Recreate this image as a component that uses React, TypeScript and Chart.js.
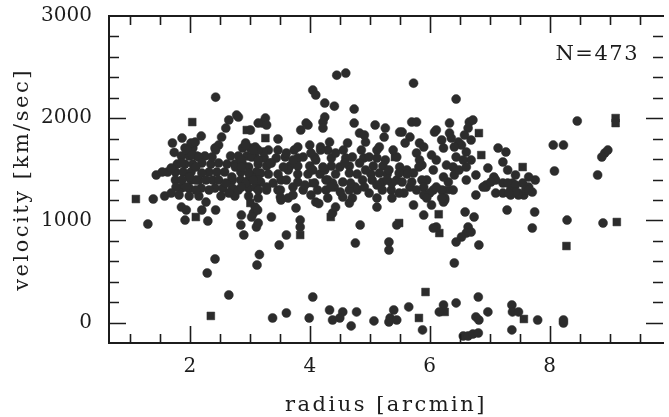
import { useEffect, useRef } from 'react';
import { Chart, registerables } from 'chart.js';

Chart.register(...registerables);

const xTickValues = [2, 4, 6, 8];
const yTickValues = [0, 1000, 2000, 3000];
const xRange = [0.652, 9.89];
const yRange = [-200, 3000];
const xAxisTitle = 'radius [arcmin]';
const yAxisTitle = 'velocity [km/sec]';
const sampleLabel = 'N=473';

// [radius (arcmin), velocity (km/s)] — filled circles
const circlesInner: [number, number][] = [
  [2.43, 2206], [2.19, 1825], [2.02, 1757], [2.09, 1766], [1.87, 1805], [1.71, 1757], [1.74, 1665], [1.44, 1444], [1.54, 1473], [1.69, 1512], [1.86, 1561],
  [2.78, 2030], [2.65, 1982], [2.60, 1903], [2.53, 1815], [2.48, 1737], [2.43, 1688], [2.37, 1620], [2.48, 1561],
  [3.01, 1884], [2.93, 1757], [3.09, 1718], [3.14, 1952],
  [1.96, 1688], [2.04, 1639], [2.15, 1620], [2.20, 1561], [2.10, 1522], [2.20, 1463], [2.27, 1395], [2.10, 1395], [1.99, 1424], [1.87, 1395], [1.94, 1326], [1.77, 1326], [2.10, 1297], [2.32, 1297], [2.48, 1395], [2.60, 1365], [2.70, 1424], [2.76, 1522], [2.86, 1591], [2.98, 1522], [3.03, 1424], [2.93, 1365], [3.09, 1326], [2.81, 1297], [2.65, 1267],
  [1.39, 1209], [1.69, 1267], [1.82, 1248], [1.30, 964],
  [1.86, 1130], [1.94, 1101], [1.92, 1003], [2.30, 994], [2.20, 1101], [2.27, 1179], [2.43, 1101],
  [2.42, 622], [2.29, 485], [2.65, 270],
  [2.86, 1052], [2.85, 955], [2.90, 857], [3.06, 1072], [3.11, 935], [3.03, 1033], [3.09, 1130], [3.16, 665], [3.12, 563],
  [2.81, 2011], [2.93, 1737], [3.14, 1688], [3.03, 1620], [2.86, 1522], [2.98, 1463], [3.14, 1395], [3.06, 1688], [3.14, 1591], [3.06, 1395], [2.86, 1326], [3.14, 1297], [3.13, 1101], [3.14, 974],
];

// dense core of the left clump
const circlesInnerCore: [number, number][] = [
  [1.92, 1708], [2.05, 1708], [2.42, 1708], [2.88, 1708], [3.01, 1708],
  [1.86, 1630], [1.99, 1630], [2.12, 1630], [2.25, 1630], [2.68, 1630], [2.81, 1630], [2.95, 1630], [3.08, 1630],
  [1.79, 1551], [1.92, 1551], [2.05, 1551], [2.35, 1551], [2.62, 1551], [2.75, 1551], [2.88, 1551], [3.14, 1551],
  [1.63, 1473], [1.76, 1473], [1.89, 1473], [2.02, 1473], [2.32, 1473], [2.45, 1473], [2.58, 1473], [2.85, 1473], [3.11, 1473],
  [1.76, 1395], [2.02, 1395], [2.15, 1395], [2.38, 1395], [2.71, 1395], [2.85, 1395], [2.98, 1395],
  [1.86, 1316], [1.99, 1316], [2.19, 1316], [2.42, 1316], [2.55, 1316], [2.71, 1316], [2.98, 1316],
  [1.58, 1238], [1.99, 1238], [2.15, 1238], [2.52, 1238], [2.75, 1238], [2.98, 1238],
];

const circlesMiddle: [number, number][] = [
  [3.52, 1199], [3.36, 1033], [3.77, 1121], [3.84, 1003], [3.84, 935], [3.61, 857], [3.49, 759],
  [4.10, 1179], [4.15, 1165], [4.38, 1072], [4.43, 1130], [4.66, 1170], [4.84, 955], [5.12, 1130], [4.76, 778], [5.45, 955], [5.32, 788], [5.32, 710],
  [4.05, 2275], [4.10, 2227], [4.25, 2148], [4.41, 2118], [4.74, 2089], [4.25, 2011], [4.22, 1962], [4.22, 1903], [3.94, 1952], [3.85, 1884], [4.74, 1952], [4.83, 1854], [5.09, 1933], [5.26, 1903], [5.24, 1815], [5.50, 1864], [3.21, 1952], [3.26, 2001], [3.47, 1796], [4.33, 1766], [4.63, 1757], [4.93, 1766], [5.16, 1718],
  [4.45, 2421], [4.60, 2441], [3.97, 1933], [4.91, 1835], [3.23, 1962], [3.28, 1933],
  [3.36, 1561], [3.59, 1620], [3.64, 1493], [3.52, 1395], [3.47, 1297], [3.80, 1718], [4.00, 1737], [4.08, 1620], [4.18, 1718], [4.25, 1493], [4.30, 1395], [4.08, 1365], [4.41, 1326],
  [3.23, 1669], [3.34, 1561], [3.61, 1659], [3.56, 1522], [3.72, 1591], [3.89, 1620], [4.02, 1659], [4.10, 1591], [4.18, 1688], [4.22, 1522], [4.05, 1493], [4.43, 1659], [4.50, 1522], [4.58, 1561], [4.66, 1463], [4.71, 1620], [4.83, 1561], [4.93, 1493], [4.99, 1620], [4.88, 1395], [4.76, 1326], [5.04, 1395], [5.16, 1463], [5.26, 1591], [5.32, 1493], [5.37, 1365], [5.49, 1463], [5.49, 1267], [5.21, 1297], [4.99, 1267], [4.66, 1297], [4.55, 1228], [4.38, 1365], [4.27, 1395],
  [3.18, 1463], [3.39, 1365], [3.61, 1395], [3.72, 1326], [3.51, 1297], [3.28, 1326], [4.02, 1248], [3.51, 1228], [3.72, 1248],
  [3.92, 1346], [4.35, 1326], [4.51, 1277], [4.68, 1365], [4.91, 1326], [5.12, 1346], [5.29, 1395],
];

// dense core of the middle clump
const circlesMiddleCore: [number, number][] = [
  [3.31, 1688], [3.47, 1688], [3.74, 1688], [4.30, 1688], [4.56, 1688], [4.86, 1688], [5.12, 1688], [5.39, 1688],
  [3.24, 1610], [3.44, 1610], [3.80, 1610], [4.36, 1610], [4.60, 1610], [4.90, 1610], [5.12, 1610],
  [3.28, 1532], [3.67, 1532], [3.80, 1532], [4.00, 1532], [4.36, 1532], [4.66, 1532], [5.06, 1532], [5.22, 1532],
  [3.31, 1453], [3.47, 1453], [3.80, 1453], [3.97, 1453], [4.17, 1453], [4.43, 1453], [4.79, 1453], [5.02, 1453], [5.29, 1453], [5.62, 1453],
  [3.18, 1375], [3.80, 1375], [4.55, 1375], [5.21, 1375], [5.54, 1375], [5.70, 1375],
  [3.28, 1297], [3.89, 1297], [4.13, 1297], [4.27, 1297], [4.79, 1297], [5.36, 1297], [5.78, 1297],
  [3.14, 1219], [3.64, 1219], [4.30, 1219], [4.71, 1219], [5.12, 1219], [5.37, 1219], [5.95, 1219], [6.20, 1219],
];

const circlesOuter: [number, number][] = [
  [5.73, 1150], [5.90, 1052], [6.03, 1150], [6.11, 935], [6.25, 1199],
  [6.06, 925], [6.59, 1082], [6.74, 1033], [6.64, 935], [6.61, 876], [6.53, 837], [6.44, 788], [6.69, 886], [6.82, 759], [6.41, 583], [7.29, 1101], [7.35, 1248], [7.48, 1248], [7.75, 1082], [7.71, 925], [8.29, 1003], [8.89, 974], [6.23, 1179],
  [8.46, 1972], [8.06, 1737], [8.23, 1737], [8.92, 1659], [8.87, 1620], [8.97, 1688], [8.08, 1483], [8.80, 1444],
  [6.44, 2187], [5.73, 2343], [5.70, 1962], [5.78, 1962], [5.54, 1864], [5.67, 1815], [5.59, 1757], [6.08, 1864], [5.83, 1757], [5.90, 1718], [6.33, 1952], [6.33, 1854], [6.66, 1962], [6.72, 1982], [6.64, 1903], [6.58, 1835], [6.48, 1766], [6.23, 1708], [6.41, 1718], [6.61, 1669], [6.44, 1620], [6.56, 1591], [6.39, 1522], [6.41, 1444], [6.23, 1424], [6.06, 1493], [6.49, 1493], [6.61, 1522],
  [7.14, 1708], [7.27, 1669], [7.22, 1571], [6.97, 1512], [7.07, 1424], [6.94, 1326], [7.65, 1424], [7.22, 1365], [7.38, 1365], [7.55, 1365], [7.65, 1326], [7.35, 1297], [7.48, 1267], [7.60, 1297], [6.11, 1884], [7.30, 1365], [7.43, 1346], [6.94, 1346], [7.10, 1395], [6.39, 1297], [7.43, 1277], [7.22, 1267], [7.65, 1297], [6.89, 1326], [7.02, 1375], [7.32, 1267],
  [5.45, 1620], [5.50, 1522], [5.62, 1493], [5.78, 1659], [5.83, 1591], [5.82, 1522], [5.73, 1463], [5.87, 1395], [5.67, 1326], [5.90, 1326], [6.06, 1297], [5.45, 1395], [5.57, 1267], [6.25, 1219], [6.00, 1267],
  [5.90, 1248], [6.11, 1326],
];

// dense core of the right clump
const circlesOuterCore: [number, number][] = [
  [6.20, 1786], [6.36, 1805], [6.53, 1737], [6.69, 1786], [6.11, 1591], [6.28, 1541], [6.69, 1591], [6.77, 1444], [6.61, 1395], [6.31, 1375], [6.20, 1297],
  [7.43, 1444], [7.30, 1493], [7.76, 1395], [7.10, 1267], [6.77, 1248], [7.57, 1248], [7.71, 1277], [5.87, 1541], [6.03, 1639], [5.95, 1395],
];

const circlesLowBand: [number, number][] = [
  [4.05, 250], [3.38, 45], [3.61, 94], [3.99, 45], [4.33, 123], [4.55, 104], [4.38, 25], [4.50, 45], [4.78, 104], [4.69, -33], [5.07, 16], [5.40, 123], [5.34, 45], [5.45, 25], [5.32, 6], [5.65, 153], [5.88, -72],
  [6.23, 172], [6.16, 104], [6.44, 192], [6.81, 250], [6.97, 104], [6.77, 55], [6.82, 25], [6.56, -131], [6.64, -131], [6.72, -112], [6.81, -102], [7.37, 172], [7.38, 104], [7.48, 104], [7.37, -72], [7.80, 25], [8.23, -4], [8.23, 25],
];

// [radius, velocity] — filled squares
const squares: [number, number][] = [
  [1.10, 1209], [2.04, 1962], [2.95, 1884], [2.10, 1033], [2.35, 65], [3.01, 1170], [3.84, 857], [4.35, 1033], [5.49, 974], [6.15, 1060], [6.16, 876], [5.82, 45], [5.93, 299], [6.25, 104], [7.57, 35], [8.28, 749], [9.12, 984], [9.10, 2001], [9.10, 1952], [6.82, 1854], [6.86, 1639], [7.55, 1522], [6.28, 1297], [3.26, 1805], [5.42, 1620], [4.05, 1365],
];

const markColor = '#2c2c2c';
const inkColor = '#1c1c1c';

const toPoints = (arr: [number, number][]) => arr.map(([x, y]) => ({ x, y }));

const framePlugin = {
  id: 'frame',
  afterDraw(chart: any) {
    const { ctx, chartArea: a, scales } = chart;
    const xs = scales.x;
    const ys = scales.y;
    ctx.save();
    ctx.strokeStyle = inkColor;
    ctx.lineWidth = 2;
    ctx.beginPath();
    ctx.moveTo(a.right + 1, a.top);
    ctx.lineTo(a.left, a.top);
    ctx.lineTo(a.left, a.bottom);
    ctx.lineTo(a.right + 1, a.bottom);
    ctx.stroke();
    ctx.lineWidth = 1.6;
    ctx.beginPath();
    for (let v = 1; v <= 9.51; v += 0.5) {
      const px = Math.round(xs.getPixelForValue(v)) + 0.5;
      const len = xTickValues.includes(v) ? 17 : 9;
      ctx.moveTo(px, a.bottom);
      ctx.lineTo(px, a.bottom - len);
      ctx.moveTo(px, a.top);
      ctx.lineTo(px, a.top + len);
    }
    for (let v = 0; v <= 2800; v += 200) {
      const py = Math.round(ys.getPixelForValue(v)) + 0.5;
      const len = v % 1000 === 0 ? 17 : 10;
      ctx.moveTo(a.left, py);
      ctx.lineTo(a.left + len, py);
      ctx.moveTo(a.right, py);
      ctx.lineTo(a.right - len, py);
    }
    ctx.stroke();

    ctx.fillStyle = inkColor;
    ctx.font = '21px "DejaVu Serif"';
    ctx.textBaseline = 'alphabetic';
    (ctx as any).letterSpacing = '2.5px';
    ctx.textAlign = 'center';
    ctx.fillText(xAxisTitle, (a.left + a.right) / 2, chart.height - 6);
    ctx.save();
    ctx.translate(28, (a.top + a.bottom) / 2);
    ctx.rotate(-Math.PI / 2);
    ctx.fillText(yAxisTitle, 0, 0);
    ctx.restore();
    (ctx as any).letterSpacing = '1.5px';
    ctx.textAlign = 'right';
    ctx.fillText(sampleLabel, 639, 60);
    ctx.restore();
  },
};

export default function App() {
  const canvasRef = useRef<HTMLCanvasElement | null>(null);

  useEffect(() => {
    const canvas = canvasRef.current;
    if (!canvas) return;
    const circleStyle = {
      pointStyle: 'circle' as const,
      pointRadius: 4.5,
      pointBackgroundColor: markColor,
      pointBorderColor: markColor,
      pointBorderWidth: 0.5,
      showLine: false,
    };
    const chart = new Chart(canvas, {
      type: 'scatter',
      data: {
        datasets: [
          { label: 'inner', data: toPoints(circlesInner), ...circleStyle },
          { label: 'innerCore', data: toPoints(circlesInnerCore), ...circleStyle },
          { label: 'middle', data: toPoints(circlesMiddle), ...circleStyle },
          { label: 'middleCore', data: toPoints(circlesMiddleCore), ...circleStyle },
          { label: 'outer', data: toPoints(circlesOuter), ...circleStyle },
          { label: 'outerCore', data: toPoints(circlesOuterCore), ...circleStyle },
          { label: 'low', data: toPoints(circlesLowBand), ...circleStyle },
          {
            label: 'squares',
            data: toPoints(squares),
            pointStyle: 'rect',
            pointRadius: 5.5,
            pointBackgroundColor: markColor,
            pointBorderColor: markColor,
            pointBorderWidth: 0.5,
            showLine: false,
          },
        ],
      },
      options: {
        animation: false,
        responsive: false,
        devicePixelRatio: 1,
        layout: { padding: { top: 16, right: 0, left: 0, bottom: 0 } },
        plugins: { legend: { display: false }, tooltip: { enabled: false } },
        scales: {
          x: {
            type: 'linear',
            min: xRange[0],
            max: xRange[1],
            grid: { display: false, drawTicks: false },
            border: { display: false },
            afterBuildTicks: (s: any) => {
              s.ticks = xTickValues.map((value) => ({ value }));
            },
            afterFit: (s: any) => {
              s.height = 74;
              s.paddingLeft = 0;
              s.paddingRight = 0;
              s.paddingTop = 0;
              s.paddingBottom = 0;
            },
            ticks: {
              autoSkip: false,
              maxRotation: 0,
              padding: 12,
              color: inkColor,
              font: { family: '"DejaVu Serif"', size: 20 },
              callback: (v: any) => String(v),
            },
          },
          y: {
            type: 'linear',
            min: yRange[0],
            max: yRange[1],
            grid: { display: false, drawTicks: false },
            border: { display: false },
            afterBuildTicks: (s: any) => {
              s.ticks = yTickValues.map((value) => ({ value }));
            },
            afterFit: (s: any) => {
              s.width = 109;
              s.paddingLeft = 0;
              s.paddingRight = 0;
              s.paddingTop = 0;
              s.paddingBottom = 0;
            },
            ticks: {
              autoSkip: false,
              padding: 17,
              color: inkColor,
              font: { family: '"DejaVu Serif"', size: 20 },
              callback: (v: any) => String(v),
            },
          },
        },
      },
      plugins: [framePlugin],
    });
    return () => chart.destroy();
  }, []);

  return (
    <div style={{ position: 'absolute', left: 0, top: 0, width: 669, height: 417, background: '#fff' }}>
      <canvas ref={canvasRef} width={669} height={417} style={{ width: 669, height: 417, display: 'block' }} />
    </div>
  );
}
